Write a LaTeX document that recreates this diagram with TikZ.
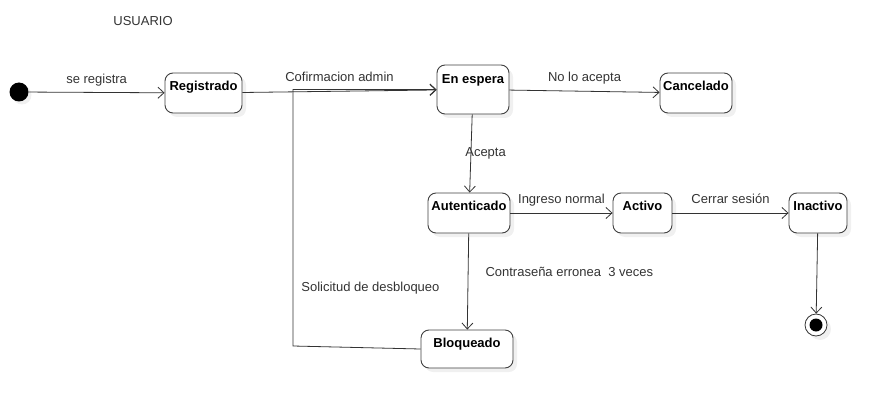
\documentclass[tikz,border=0pt]{standalone}
\usepackage{fontspec}
\setmainfont{Liberation Sans}
\usetikzlibrary{arrows.meta,shadows}

\tikzset{
  state/.style={draw=black!75, fill=white, rounded corners=8pt, line width=0.9pt,
    font=\fontsize{13}{15}\selectfont\bfseries, inner xsep=2pt, inner ysep=4pt,
    text height=13.5pt, text depth=18.5pt,
    drop shadow={shadow xshift=4pt, shadow yshift=-4pt, opacity=0.12}},
  trans/.style={draw=black!80, line width=0.8pt, -{Straight Barb[length=6pt,width=11pt]}},
  edgelabel/.style={text=black!80, inner sep=0pt, text height=10pt, text depth=3pt},
  dot/.style={circle, fill=black, inner sep=0pt},
}

\begin{document}
\begin{tikzpicture}[x=1pt,y=-1pt,font=\fontsize{13}{15}\selectfont]
\useasboundingbox (0,0) rectangle (888,409);

% A. Title
\node[edgelabel] (title) at (143,22) {USUARIO};

% B. Start and end points
\node[dot, minimum size=19pt, drop shadow={shadow xshift=3pt, shadow yshift=-3pt, opacity=0.12}] (start) at (19,92) {};
\node[circle, draw=black!80, fill=white, line width=0.8pt, minimum size=22pt, inner sep=0pt,
  drop shadow={shadow xshift=4pt, shadow yshift=-4pt, opacity=0.12}] (stop) at (816,325) {};
\node[dot, minimum size=13pt] (stopdot) at (stop) {};

% C. States
\node[state, minimum width=77pt] (reg) at (203.5,93) {Registrado};
\node[state, minimum width=72pt, text height=15pt, text depth=26pt] (esp) at (473,89.5) {En espera};
\node[state, minimum width=72pt] (canc) at (696,93) {Cancelado};
\node[state, minimum width=82pt] (aut) at (469,213) {Autenticado};
\node[state, minimum width=59pt] (act) at (642.5,213) {Activo};
\node[state, minimum width=58pt] (ina) at (818,213) {Inactivo};
\node[state, minimum width=92pt, text depth=16.5pt] (bloq) at (467,349) {Bloqueado};

% D. Transitions
\draw[trans] (start) -- (reg) node[edgelabel, midway, above=6pt] (lreg) {se registra};
\draw[trans] (reg) -- (esp) node[edgelabel, midway, above=6pt] (lconf) {Cofirmacion admin};
\draw[trans] (esp) -- (canc) node[edgelabel, midway, above=6pt] (lno) {No lo acepta};
\draw[trans] (esp) -- (aut) node[edgelabel, midway, anchor=west, xshift=-6pt] (lacep) {Acepta};
\draw[trans] (aut) -- (act) node[edgelabel, midway, above=6pt] (ling) {Ingreso normal};
\draw[trans] (act) -- (ina) node[edgelabel, midway, above=6pt] (lcerr) {Cerrar sesión};
\draw[trans] (aut) -- (bloq) node[edgelabel, pos=0.41, anchor=west, xshift=17pt] (lcon) {Contraseña erronea~~3 veces};
\draw[trans] (ina) -- (stop);

% E. Way back from Bloqueado to En espera
\coordinate (bend) at (293,346);
\draw[trans] (bloq.west) -- (bend) |- node[edgelabel, pos=0.113, anchor=west, xshift=8pt] (lsol) {Solicitud de desbloqueo} (esp.west);

\end{tikzpicture}
\end{document}
